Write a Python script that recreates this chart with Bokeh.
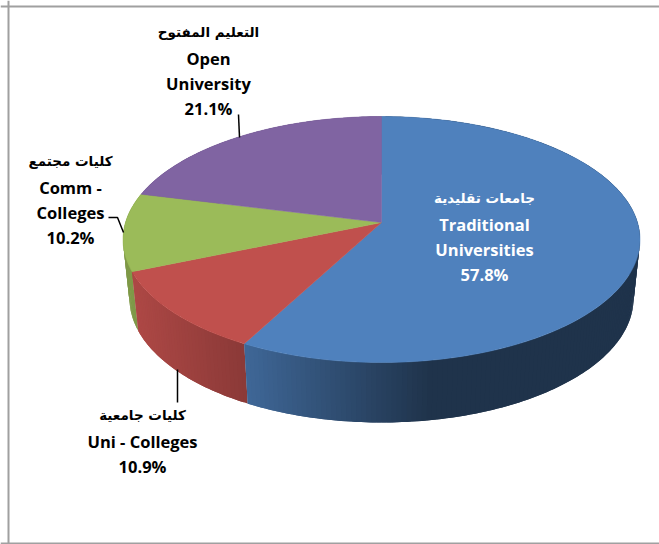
import numpy as np
from bokeh.plotting import figure
from bokeh.models import Span
from bokeh.embed import file_html
from bokeh.resources import INLINE
from bokeh.core.properties import value

names_ar = ["جامعات تقليدية", "كليات جامعية", "كليات مجتمع", "التعليم المفتوح"]
names_en = [["Traditional", "Universities"], ["Uni - Colleges"], ["Comm -", "Colleges"], ["Open", "University"]]
shares = [57.8, 10.9, 10.2, 21.1]
labels = ["57.8%", "10.9%", "10.2%", "21.1%"]
top_colors = ["#4f81bd", "#c0504d", "#9bbb59", "#8064a2"]
text_colors = ["white", "black", "black", "black"]
label_x = [484, 142, 70, 208]
label_y = [197, 414, 160, 31]

# wall shading per slice: (x0, x1, factor at x0, factor at x1)
shade = [(245, 430, 0.80, 0.40), (135, 247, 0.90, 0.72), (120, 140, 0.82, 0.82), (120, 640, 0.8, 0.8)]

CX, CY, A, B = 381.0, 239.0, 258.5, 123.0
CX2, CY2, A2, B2 = 381.0, 298.0, 252.0, 124.0
K = 0.138


def rim(theta_deg):
    t = np.radians(theta_deg)
    u, v = np.sin(t), -np.cos(t)
    d = 1 - K * v
    return u * np.sqrt(1 - K * K) / d, (v - K) / d


def hexcol(c, f):
    r, g, b = int(c[1:3], 16), int(c[3:5], 16), int(c[5:7], 16)
    return "#%02x%02x%02x" % (int(r * f), int(g * f), int(b * f))


p = figure(width=659, height=544, x_range=(0, 659), y_range=(544, 0),
           toolbar_location=None, output_backend="svg", min_border=0,
           background_fill_color="white", outline_line_color=None)
p.axis.visible = False
p.grid.visible = False

edges = np.concatenate([[0], np.cumsum(shares)]) / sum(shares) * 360.0

# side walls: each strip overlaps the next one so no seams show
wx, wy, wc = [], [], []
for i in [3, 2, 1, 0]:
    th = np.arange(edges[i], edges[i + 1], 1.0)
    th = np.append(th, edges[i + 1])
    u, v = rim(th)
    xt, yt = CX + A * u, CY + B * v
    xb, yb = CX2 + A2 * u, CY2 + B2 * v
    x0, x1, f0, f1 = shade[i]
    for j in range(len(th) - 1):
        e = min(j + 2, len(th) - 1)
        xm = (xt[j] + xt[j + 1]) / 2
        f = f0 + (f1 - f0) * np.clip((xm - x0) / (x1 - x0), 0, 1)
        wx.append([xt[j], *xt[j + 1:e + 1], *xb[j + 1:e + 1][::-1], xb[j]])
        wy.append([yt[j], *yt[j + 1:e + 1], *yb[j + 1:e + 1][::-1], yb[j]])
        wc.append(hexcol(top_colors[i], f))
p.patches(wx, wy, fill_color=wc, line_color=None)

# top face
ax0, ay0 = CX, CY - K * B
sx, sy = [], []
for i in range(4):
    th = np.linspace(edges[i], edges[i + 1], 160)
    u, v = rim(th)
    sx.append(np.concatenate([[ax0], CX + A * u]).tolist())
    sy.append(np.concatenate([[ay0], CY + B * v]).tolist())
p.patches(sx, sy, fill_color=top_colors, line_color=top_colors, line_width=0.5)

# leader lines
p.multi_line([[238, 239], [108, 117, 123], [177, 177]],
             [[114, 137], [217, 217, 232], [369, 402]],
             line_color="black", line_width=1.5)

# labels
LINE = 25.0
for i in range(4):
    yy = label_y[i]
    p.text([label_x[i]], [yy], text=[names_ar[i]], text_font=value("DejaVu Sans"),
           text_font_style="bold", text_font_size="13.5px", text_align="center",
           text_baseline="middle", text_color=text_colors[i])
    yy += 26.5
    for s in names_en[i] + [labels[i]]:
        p.text([label_x[i]], [yy], text=[s], text_font=value("Open Sans"),
               text_font_style="bold", text_font_size="16.5px", text_align="center",
               text_baseline="middle", text_color=text_colors[i])
        yy += LINE

# chart frame
p.add_layout(Span(location=8, dimension="height", line_color="#a0a0a0", line_width=2))
p.add_layout(Span(location=6, dimension="width", line_color="#a0a0a0", line_width=2))
p.add_layout(Span(location=543, dimension="width", line_color="#a0a0a0", line_width=2))

open("out.html", "w").write(file_html(p, INLINE))
